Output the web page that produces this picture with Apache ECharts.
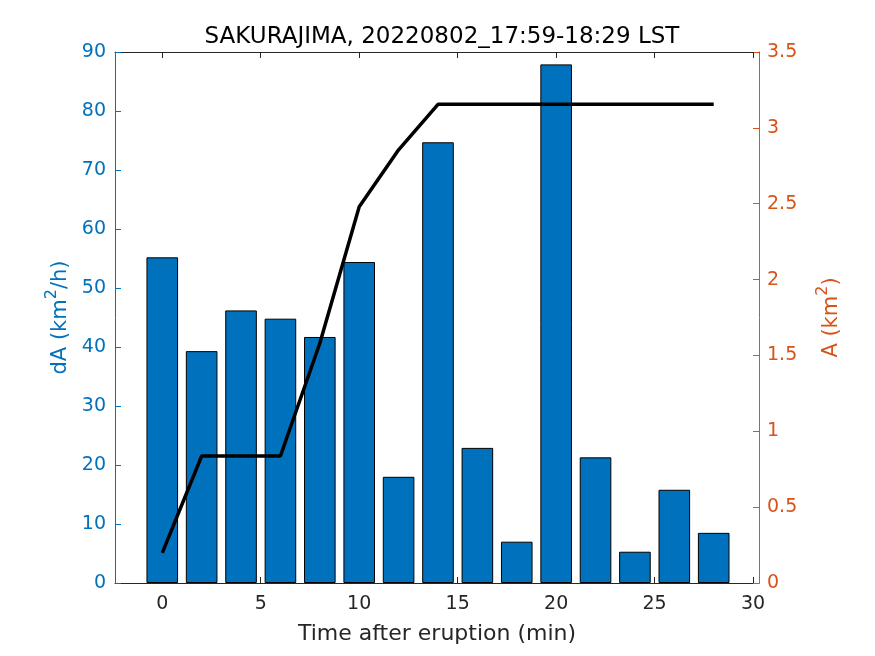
<!DOCTYPE html>
<html><head><meta charset="utf-8">
<script src="https://cdn.jsdelivr.net/npm/echarts@6/dist/echarts.min.js"></script>
<style>html,body{margin:0;padding:0;background:#fff}#c{width:875px;height:656px}</style>
</head><body><div id="c"></div>
<script>
var times = [0,2,4,6,8,10,12,14,16,18,20,22,24,26,28];
var dA = [55.2,39.3,46.2,44.8,41.7,54.4,18.0,74.7,22.9,7.0,87.9,21.3,5.3,15.8,8.5];
var A = [0.198,0.837,0.837,0.837,1.58,2.48,2.855,3.155,3.155,3.155,3.155,3.155,3.155,3.155,3.155];
var xTicks = [0,5,10,15,20,25,30];
var title = 'SAKURAJIMA, 20220802_17:59-18:29 LST';
var FONT = '"DejaVu Sans", sans-serif';
var BLUE = '#0072BD', ORANGE = '#D95319';

var barData = times.map(function(t,i){return [t, dA[i]];});
var lineData = times.map(function(t,i){return [t, A[i]];});

function rich(color){
  return {
    n: {fontFamily: FONT, fontSize: 21, color: color, lineHeight: 27, verticalAlign: 'bottom'},
    s: {fontFamily: FONT, fontSize: 16, color: color, lineHeight: 27, verticalAlign: 'top'}
  };
}

var chart = echarts.init(document.getElementById('c'));
chart.setOption({
  animation: false,
  title: {text: title, left: 437, top: 21, textAlign: 'center',
    textStyle: {fontFamily: FONT, fontSize: 23, fontWeight: 'normal', color: '#000'}},
  grid: {left: 115, right: 116, top: 52, bottom: 73},
  xAxis: [{
    type: 'value', min: -2.4, max: 30.3, position: 'bottom',
    name: 'Time after eruption (min)', nameLocation: 'middle', nameGap: 40,
    nameTextStyle: {fontFamily: FONT, fontSize: 22, color: '#262626'},
    axisLine: {show: true, onZero: false, lineStyle: {color: '#262626', width: 1}},
    axisTick: {show: true, inside: true, length: 6, customValues: xTicks, lineStyle: {color: '#262626'}},
    axisLabel: {customValues: xTicks, fontFamily: FONT, fontSize: 19, color: '#262626', margin: 12},
    splitLine: {show: false}
  },{
    type: 'value', min: -2.4, max: 30.3, position: 'top',
    axisLine: {show: true, onZero: false, lineStyle: {color: '#262626', width: 1}},
    axisTick: {show: true, inside: true, length: 6, customValues: xTicks, lineStyle: {color: '#262626'}},
    axisLabel: {show: false, customValues: xTicks},
    splitLine: {show: false}
  }],
  yAxis: [{
    type: 'value', min: 0, max: 90, interval: 10, position: 'left',
    name: '{n|dA (km}{s|2}{n|/h)}', nameLocation: 'middle', nameGap: 42, nameRotate: 90,
    nameTextStyle: {fontFamily: FONT, fontSize: 21, color: BLUE, rich: rich(BLUE)},
    axisLine: {show: true, onZero: false, lineStyle: {color: BLUE, width: 1}},
    axisTick: {show: true, inside: true, length: 6, lineStyle: {color: BLUE}},
    axisLabel: {fontFamily: FONT, fontSize: 19, color: BLUE, margin: 9},
    splitLine: {show: false}
  },{
    type: 'value', min: 0, max: 3.5, interval: 0.5, position: 'right',
    name: '{n|A (km}{s|2}{n|)}', nameLocation: 'middle', nameGap: 56, nameRotate: 90,
    nameTextStyle: {fontFamily: FONT, fontSize: 21, color: ORANGE, rich: rich(ORANGE)},
    axisLine: {show: true, onZero: false, lineStyle: {color: ORANGE, width: 1}},
    axisTick: {show: true, inside: true, length: 6, lineStyle: {color: ORANGE}},
    axisLabel: {fontFamily: FONT, fontSize: 19, color: ORANGE, margin: 8},
    splitLine: {show: false}
  }],
  series: [{
    type: 'bar', xAxisIndex: 0, yAxisIndex: 0, data: barData, barWidth: 31.6,
    itemStyle: {color: BLUE, borderColor: '#000', borderWidth: 1}
  },{
    type: 'line', xAxisIndex: 0, yAxisIndex: 1, data: lineData, symbol: 'none',
    lineStyle: {color: '#000', width: 3.5}
  }]
});
</script></body></html>
